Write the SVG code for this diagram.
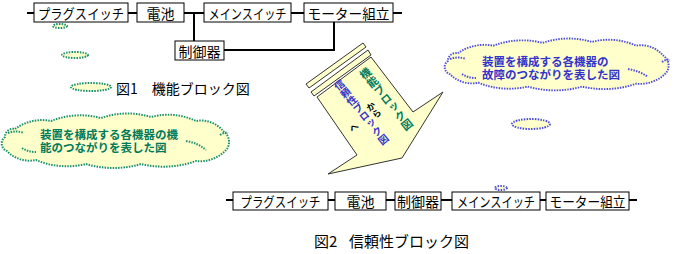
<svg xmlns="http://www.w3.org/2000/svg" width="674" height="254" viewBox="0 0 674 254">
<style>
.box{fill:#fff;stroke:#000;stroke-width:1}
.lbl{font-family:"Noto Sans CJK JP","Noto Sans",sans-serif;font-size:14px;fill:#000;text-anchor:middle;dominant-baseline:central}
.cap{font-family:"Noto Sans CJK JP","Noto Sans",sans-serif;fill:#000}
.wire{stroke:#000;stroke-width:2;fill:none}
.cg{fill:#ffffcc;stroke:#1a9070;stroke-width:2;stroke-dasharray:1.5 1.2}
.cb{fill:#ffffcc;stroke:#4d4ddd;stroke-width:2;stroke-dasharray:1.5 1.2}
.ig{fill:none;stroke:#1a9070;stroke-width:2;stroke-dasharray:1.5 1.2}
.ib{fill:none;stroke:#4d4ddd;stroke-width:2;stroke-dasharray:1.5 1.2}
.tg{font-family:"Noto Sans CJK JP",sans-serif;font-size:11.5px;font-weight:bold;fill:#007a5a}
.tb{font-family:"Noto Sans CJK JP",sans-serif;font-size:11.5px;font-weight:bold;fill:#3333cc}
.arr{fill:#ffffcc;stroke:#333;stroke-width:1}
.vt{font-family:"Noto Sans CJK JP",sans-serif;font-weight:bold;writing-mode:tb;text-orientation:upright}
</style>
<defs>
<path id="cloud" d="M14,14 A45,45 0 0 1 50,6 A80,80 0 0 1 100,3 A80,80 0 0 1 150,2 A65,65 0 0 1 195,6 A28,28 0 0 1 222,16 A13,13 0 0 1 226,34 A36,36 0 0 1 195,46 A96,96 0 0 1 140,49 A96,96 0 0 1 85,49 A80,80 0 0 1 35,45 A31,31 0 0 1 6,36 A8,8 0 0 1 4,22 A8,8 0 0 1 14,14 Z"/>
</defs>

<g id="connectors">
<path class="wire" d="M27,13H34 M128,13H137 M184,13H204 M194,13V41 M291,13H304 M393,13H402 M224,50H334V22"/>
<path class="wire" d="M226,200H233 M328,200H335 M386,200H395 M441,200H452 M540,200H546 M629,200H637"/>
</g>

<g id="plug1"><rect class="box" x="34" y="3" width="94" height="19"/><text class="lbl" x="81" y="13" textLength="86" lengthAdjust="spacingAndGlyphs">プラグスイッチ</text></g>
<g id="battery1"><rect class="box" x="137" y="3" width="47" height="19"/><text class="lbl" x="160.5" y="13">電池</text></g>
<g id="mainsw1"><rect class="box" x="204" y="3" width="87" height="19"/><text class="lbl" x="247.5" y="13" textLength="78" lengthAdjust="spacingAndGlyphs">メインスイッチ</text></g>
<g id="motor1"><rect class="box" x="304" y="3" width="89" height="19"/><text class="lbl" x="348.5" y="13" textLength="82" lengthAdjust="spacingAndGlyphs">モーター組立</text></g>
<g id="ctrl1"><rect class="box" x="175" y="41" width="49" height="19"/><text class="lbl" x="199.5" y="51">制御器</text></g>

<g id="plug2"><rect class="box" x="233" y="192" width="95" height="18"/><text class="lbl" x="280.5" y="201" textLength="80" lengthAdjust="spacingAndGlyphs">プラグスイッチ</text></g>
<g id="battery2"><rect class="box" x="335" y="192" width="51" height="18"/><text class="lbl" x="360.5" y="201">電池</text></g>
<g id="ctrl2"><rect class="box" x="395" y="192" width="46" height="18"/><text class="lbl" x="418" y="201">制御器</text></g>
<g id="mainsw2"><rect class="box" x="452" y="192" width="88" height="18"/><text class="lbl" x="496" y="201" textLength="78" lengthAdjust="spacingAndGlyphs">メインスイッチ</text></g>
<g id="motor2"><rect class="box" x="546" y="192" width="83" height="18"/><text class="lbl" x="587.5" y="201" textLength="76" lengthAdjust="spacingAndGlyphs">モーター組立</text></g>

<g id="caption1"><text class="cap" x="116" y="94" font-size="14">図1　機能ブロック図</text></g>
<g id="caption2"><text class="cap" y="247" font-size="15"><tspan x="314">図2</tspan><tspan x="349">信頼性ブロック図</tspan></text></g>

<g id="cloud-left">
<ellipse class="cg" cx="60" cy="26" rx="7" ry="2"/>
<ellipse class="cg" cx="75" cy="55" rx="13" ry="3"/>
<ellipse class="cg" cx="91" cy="87" rx="20" ry="4"/>
<use href="#cloud" class="cg" transform="translate(1,115)"/>
<path class="ig" d="M8,133 Q16,130 24,133 M186,141 Q198,143 206,150 M220,135 Q224,132 228,133 M22,148 Q28,152 36,152"/>
<text class="tg" x="40" y="139">装置を構成する各機器の機</text>
<text class="tg" x="40" y="152">能のつながりを表した図</text>
</g>

<g id="cloud-right">
<ellipse class="cb" cx="501" cy="188" rx="6" ry="2"/>
<ellipse class="cb" cx="531" cy="124" rx="19" ry="5"/>
<use href="#cloud" class="cb" transform="translate(444,40) scale(0.985,0.95)"/>
<path class="ib" d="M450,59 Q458,56 466,59 M628,69 Q640,71 648,77 M662,62 Q666,59 670,60 M462,74 Q468,78 476,78"/>
<text class="tb" x="482" y="66">装置を構成する各機器の</text>
<text class="tb" x="482" y="79">故障のつながりを表した図</text>
</g>

<g id="arrow">
<polygon class="arr" points="306,84 363,43 366,47 309,88"/>
<polygon class="arr" points="311,92 368,50 371,55 314,96"/>
<polygon class="arr" points="317,97 371,57 413,112 443,92 402,158 328,174 357,155"/>
<g transform="translate(362,69) rotate(-39)"><text class="vt" x="0" y="0" font-size="11" fill="#007a5a">機能ブロック図</text></g>
<g transform="translate(368,103) rotate(-39)"><text class="vt" x="0" y="0" font-size="9" fill="#000">から</text></g>
<g transform="translate(336,81) rotate(-39)"><text class="vt" x="0" y="0" font-size="10" fill="#3333cc">信頼性ブロック図</text></g>
<g transform="translate(351,124) rotate(-39)"><text class="vt" x="0" y="0" font-size="9" fill="#000">へ</text></g>
</g>
</svg>
